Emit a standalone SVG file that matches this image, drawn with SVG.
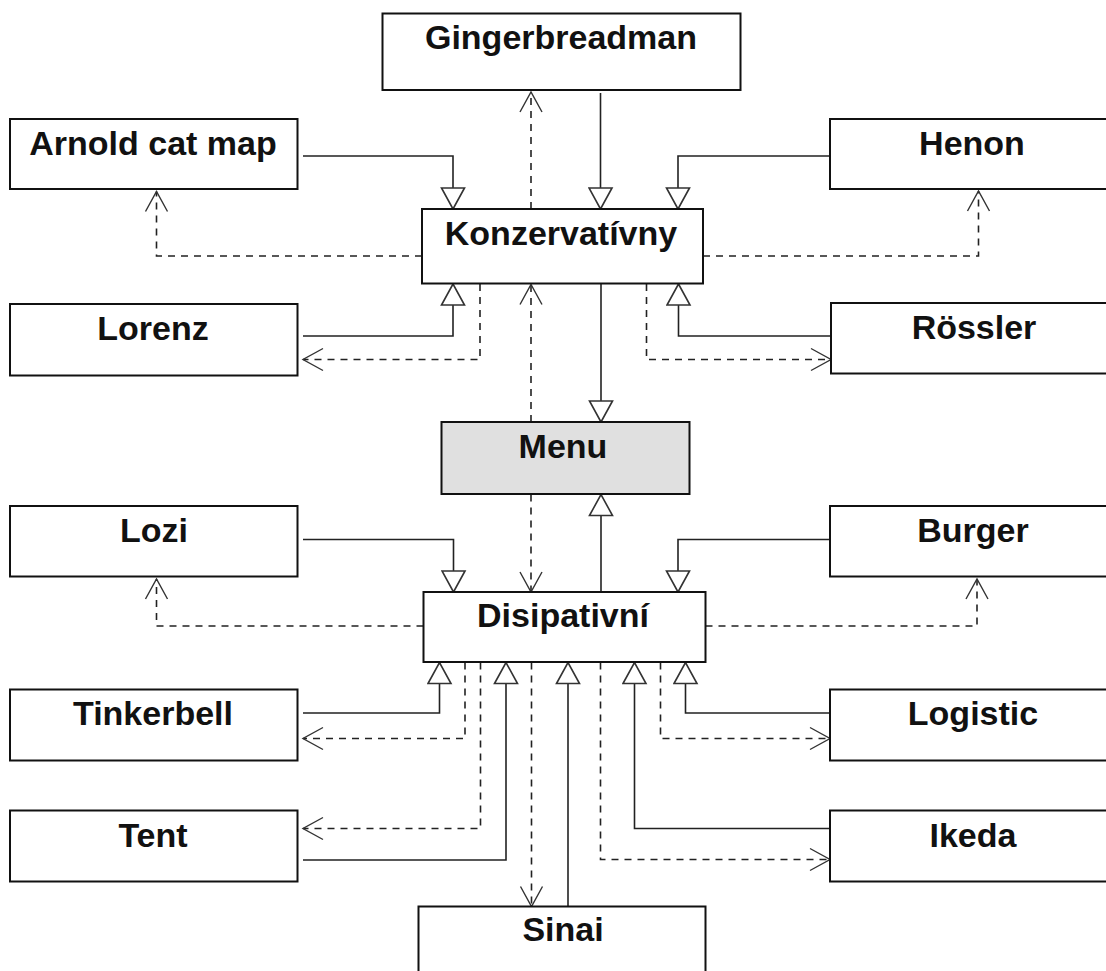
<svg xmlns="http://www.w3.org/2000/svg" width="1106" height="971" viewBox="0 0 1106 971">
<style>
.box{fill:#fff;stroke:#111;stroke-width:2}
.menu{fill:#e0e0e0}
.lbl{font-family:"Liberation Sans",Arial,Helvetica,sans-serif;font-weight:bold;font-size:34px;fill:#111;text-anchor:middle}
.gen{fill:none;stroke:#222;stroke-width:1.6;marker-end:url(#tri)}
.dep{fill:none;stroke:#222;stroke-width:1.6;stroke-dasharray:7 6;marker-end:url(#open)}
</style>
<defs>
<marker id="tri" markerUnits="userSpaceOnUse" viewBox="0 0 24 26" markerWidth="24" markerHeight="26" refX="22" refY="13" orient="auto">
<path d="M1,1.5 L22,13 L1,24.5 Z" fill="#fff" stroke="#333" stroke-width="1.6" stroke-linejoin="miter"/>
</marker>
<marker id="open" markerUnits="userSpaceOnUse" viewBox="0 0 24 26" markerWidth="24" markerHeight="26" refX="21" refY="13" orient="auto">
<path d="M1,2 L21,13 L1,24" fill="none" stroke="#333" stroke-width="1.4"/>
</marker>
</defs>
<g id="connectors">
<path class="gen" d="M303,156 H453 V209"/>
<path class="gen" d="M600.5,93 V209"/>
<path class="gen" d="M830,156 H678 V209"/>
<path class="gen" d="M303,336 H453 V284"/>
<path class="gen" d="M831,336 H678.5 V284"/>
<path class="gen" d="M601,284 V422"/>
<path class="gen" d="M601,592 V494.5"/>
<path class="gen" d="M303,539.5 H453.5 V592"/>
<path class="gen" d="M830,539.5 H678 V592"/>
<path class="gen" d="M303,713 H439.5 V662.5"/>
<path class="gen" d="M303,860 H506 V662.5"/>
<path class="gen" d="M568,906.5 V662.5"/>
<path class="gen" d="M830,828.5 H634.5 V662.5"/>
<path class="gen" d="M830,713 H685.5 V662.5"/>
<path class="dep" d="M531,209 V92"/>
<path class="dep" d="M422,256 H156.5 V191.5"/>
<path class="dep" d="M703,256 H978.5 V191"/>
<path class="dep" d="M480,284 V359.5 H303"/>
<path class="dep" d="M646.5,284 V359.5 H831"/>
<path class="dep" d="M531,422 V284.5"/>
<path class="dep" d="M531,494.5 V592"/>
<path class="dep" d="M423.5,626 H156.5 V579"/>
<path class="dep" d="M705.5,626 H977 V579"/>
<path class="dep" d="M465,662.5 V738.5 H303"/>
<path class="dep" d="M480.5,662.5 V828.5 H303"/>
<path class="dep" d="M531.5,662.5 V906.5"/>
<path class="dep" d="M600.5,662.5 V859.5 H830"/>
<path class="dep" d="M660.5,662.5 V738.5 H830"/>
</g>
<g id="gingerbreadman"><rect class="box" x="382.5" y="13.5" width="358" height="76.5"/><text class="lbl" x="561" y="49">Gingerbreadman</text></g>
<g id="arnold"><rect class="box" x="10" y="119" width="287.5" height="70"/><text class="lbl" x="153" y="155">Arnold cat map</text></g>
<g id="henon"><rect class="box" x="830" y="119" width="290" height="70"/><text class="lbl" x="972" y="155">Henon</text></g>
<g id="konzervativny"><rect class="box" x="422" y="209" width="281" height="74.5"/><text class="lbl" x="561" y="245">Konzervatívny</text></g>
<g id="lorenz"><rect class="box" x="10" y="304" width="287.5" height="71.5"/><text class="lbl" x="153" y="340">Lorenz</text></g>
<g id="rossler"><rect class="box" x="831" y="303" width="290" height="70.5"/><text class="lbl" x="974" y="339">Rössler</text></g>
<g id="menu"><rect class="box menu" x="441.5" y="422" width="248" height="72"/><text class="lbl" x="563" y="457.5">Menu</text></g>
<g id="lozi"><rect class="box" x="10" y="506" width="287.5" height="70.5"/><text class="lbl" x="154" y="542">Lozi</text></g>
<g id="burger"><rect class="box" x="830" y="506" width="290" height="70.5"/><text class="lbl" x="973" y="542">Burger</text></g>
<g id="disipativni"><rect class="box" x="423.5" y="592" width="282" height="70"/><text class="lbl" x="563" y="627">Disipativní</text></g>
<g id="tinkerbell"><rect class="box" x="10" y="689.5" width="287.5" height="71"/><text class="lbl" x="153" y="725">Tinkerbell</text></g>
<g id="logistic"><rect class="box" x="830" y="689.5" width="290" height="71"/><text class="lbl" x="973" y="725">Logistic</text></g>
<g id="tent"><rect class="box" x="10" y="810.5" width="287.5" height="71"/><text class="lbl" x="153" y="846.5">Tent</text></g>
<g id="ikeda"><rect class="box" x="830" y="810.5" width="290" height="71"/><text class="lbl" x="973" y="846.5">Ikeda</text></g>
<g id="sinai"><rect class="box" x="418.5" y="906.5" width="287" height="80"/><text class="lbl" x="563" y="941">Sinai</text></g>
</svg>
